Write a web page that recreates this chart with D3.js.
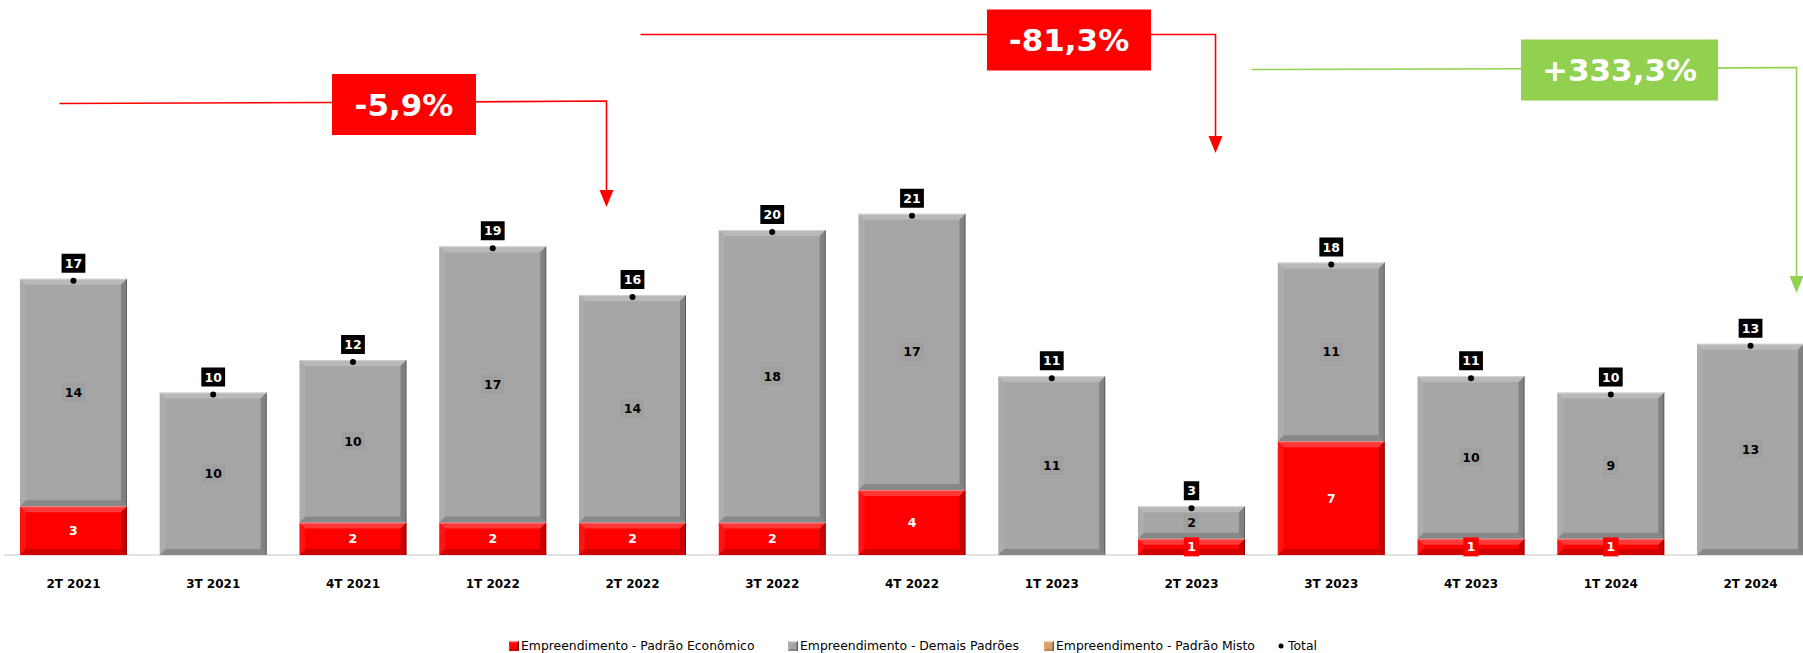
<!DOCTYPE html>
<html>
<head>
<meta charset="utf-8">
<script src="https://cdn.jsdelivr.net/npm/d3@7"></script>
<style>
  html, body { margin: 0; padding: 0; background: #ffffff; }
  svg { display: block; }
  text { font-family: "DejaVu Sans", Verdana, sans-serif; }
</style>
</head>
<body>
<svg id="chart" width="1803" height="653"></svg>
<script>
// Quarterly launches, split by project standard
const categories = ["2T 2021", "3T 2021", "4T 2021", "1T 2022", "2T 2022", "3T 2022", "4T 2022",
                    "1T 2023", "2T 2023", "3T 2023", "4T 2023", "1T 2024", "2T 2024"];
const padraoEconomico = [3, 0, 2, 2, 2, 2, 4, 0, 1, 7, 1, 1, 0];
const demaisPadroes   = [14, 10, 10, 17, 14, 18, 17, 11, 2, 11, 10, 9, 13];
const padraoMisto     = [0, 0, 0, 0, 0, 0, 0, 0, 0, 0, 0, 0, 0];
const seriesNames = ["Empreendimento - Padrão Econômico", "Empreendimento - Demais Padrões",
                     "Empreendimento - Padrão Misto", "Total"];

// Period-over-period comparisons highlighted above the bars (category indexes)
const comparisons = [
  { from: 0, to: 4 },
  { from: 4, to: 8 },
  { from: 8, to: 12 }
];

const totals = categories.map((_, i) => padraoEconomico[i] + demaisPadroes[i] + padraoMisto[i]);

const svg = d3.select("#chart");
const W = 1803;

const colors = { eco: "#ff0000", demais: "#a6a6a6", misto: "#d9a066", up: "#92d050", down: "#ff0000" };

const x = d3.scaleBand().domain(categories).range([3.6, 1820.4]).paddingInner(0.2343).paddingOuter(0.117);
const y = d3.scaleLinear().domain([0, 30]).range([555, 67.5]);

// baseline + category labels
const axis = d3.axisBottom(x).tickSize(0).tickSizeOuter(0).tickPadding(24);
const gAxis = svg.append("g").attr("transform", `translate(0,${y(0)})`).call(axis);
gAxis.select(".domain").attr("stroke", "#d9d9d9").attr("stroke-width", 1.5).attr("d", `M4,0H${W}`);
gAxis.selectAll(".tick text").attr("font-family", "DejaVu Sans, sans-serif")
  .attr("font-size", 12).attr("font-weight", "bold").attr("fill", "#000");

// stacked data
const rows = categories.map((c, i) => ({ cat: c, eco: padraoEconomico[i], demais: demaisPadroes[i], misto: padraoMisto[i] }));
const stack = d3.stack().keys(["eco", "demais", "misto"]);
const stacked = stack(rows);

function bevel(g, x0, y0, w, h, size) {
  const b = Math.min(size, h / 2, w / 2);
  const polys = [
    { p: [[x0, y0], [x0 + w, y0], [x0 + w - b, y0 + b], [x0 + b, y0 + b]], f: "#ffffff", o: 0.22 },
    { p: [[x0, y0], [x0 + b, y0 + b], [x0 + b, y0 + h - b], [x0, y0 + h]], f: "#ffffff", o: 0.07 },
    { p: [[x0 + w, y0], [x0 + w, y0 + h], [x0 + w - b, y0 + h - b], [x0 + w - b, y0 + b]], f: "#000000", o: 0.22 },
    { p: [[x0, y0 + h], [x0 + w, y0 + h], [x0 + w - b, y0 + h - b], [x0 + b, y0 + h - b]], f: "#000000", o: 0.18 }
  ];
  polys.forEach(d => g.append("polygon").attr("points", d.p.map(q => q.join(",")).join(" "))
    .attr("fill", d.f).attr("fill-opacity", d.o));
  // crisp outer edges
  g.append("line").attr("x1", x0).attr("x2", x0 + w).attr("y1", y0 + 0.5).attr("y2", y0 + 0.5)
    .attr("stroke", "#ffffff").attr("stroke-opacity", 0.35);
  g.append("line").attr("x1", x0 + w - 0.5).attr("x2", x0 + w - 0.5).attr("y1", y0).attr("y2", y0 + h)
    .attr("stroke", "#000000").attr("stroke-opacity", 0.3);
}

const fillFor = { eco: colors.eco, demais: colors.demais, misto: colors.misto };
const gBars = svg.append("g");
stacked.forEach(layer => {
  layer.forEach((d, i) => {
    const v = d[1] - d[0];
    if (v <= 0) return;
    const x0 = x(categories[i]), w = x.bandwidth();
    const y0 = y(d[1]), h = y(d[0]) - y(d[1]);
    const g = gBars.append("g");
    g.append("rect").attr("x", x0).attr("y", y0).attr("width", w).attr("height", h).attr("fill", fillFor[layer.key]);
    bevel(g, x0, y0, w, h, 6);
  });
});

// segment value labels
const gSeg = svg.append("g");
stacked.forEach(layer => {
  layer.forEach((d, i) => {
    const v = d[1] - d[0];
    if (v <= 0) return;
    const cx = x(categories[i]) + x.bandwidth() / 2;
    const cy = (y(d[0]) + y(d[1])) / 2;
    const txt = String(v);
    const bw = txt.length * 8.4 + 7, bh = 19;
    const isEco = layer.key === "eco";
    gSeg.append("rect").attr("x", cx - bw / 2).attr("y", cy - bh / 2).attr("width", bw).attr("height", bh)
      .attr("fill", isEco ? colors.eco : "#a0a0a0");
    gSeg.append("text").attr("x", cx).attr("y", cy).attr("dy", "0.36em").attr("text-anchor", "middle")
      .attr("font-size", 12.5).attr("font-weight", "bold").attr("fill", isEco ? "#ffffff" : "#000000").text(txt);
  });
});

// total markers and labels
const gTot = svg.append("g");
totals.forEach((t, i) => {
  const cx = x(categories[i]) + x.bandwidth() / 2;
  const cy = y(t) + 2;
  gTot.append("circle").attr("cx", cx).attr("cy", cy).attr("r", 3).attr("fill", "#000");
  const txt = String(t);
  const bw = txt.length * 8.4 + 7, bh = 19;
  const by = cy - 8 - bh;
  gTot.append("rect").attr("x", cx - bw / 2).attr("y", by).attr("width", bw).attr("height", bh).attr("fill", "#000");
  gTot.append("text").attr("x", cx).attr("y", by + bh / 2).attr("dy", "0.36em").attr("text-anchor", "middle")
    .attr("font-size", 12.5).attr("font-weight", "bold").attr("fill", "#fff").text(txt);
});

// comparison callouts: connector line, percentage box, arrow down to the target period
const callLayout = [
  { startDx: -14, y1: 103.5, y2: 101, boxCx: 404, boxCy: 104.5, boxW: 144, arrowDx: -26, tipY: 207 },
  { startDx: 8,   y1: 34.5,  y2: 34.5, boxCx: 1069, boxCy: 40, boxW: 164, arrowDx: 24, tipY: 153 },
  { startDx: 60,  y1: 69.5,  y2: 67.5, boxCx: 1619.5, boxCy: 70, boxW: 197, arrowDx: 46, tipY: 293 }
];
// Brazilian style: plain hyphen for negatives, comma as decimal separator
const pctFmt = v => (v > 0 ? "+" : v < 0 ? "-" : "") + Math.abs(v).toFixed(1).replace(".", ",") + "%";
const gAnn = svg.append("g");
comparisons.forEach((c, k) => {
  const L = callLayout[k];
  const a = totals[c.from], b = totals[c.to];
  const pct = (b - a) / a * 100;
  const col = pct >= 0 ? colors.up : colors.down;
  const xs = x(categories[c.from]) + x.bandwidth() / 2 + L.startDx;
  const xa = x(categories[c.to]) + x.bandwidth() / 2 + L.arrowDx;
  gAnn.append("path")
    .attr("d", `M${xs},${L.y1}L${L.boxCx},${(L.y1 + L.y2) / 2}L${xa},${L.y2}L${xa},${L.tipY - 15}`)
    .attr("fill", "none").attr("stroke", col).attr("stroke-width", 1.6);
  gAnn.append("polygon")
    .attr("points", `${xa - 7},${L.tipY - 17} ${xa + 7},${L.tipY - 17} ${xa},${L.tipY}`)
    .attr("fill", col);
  const bh = 61;
  gAnn.append("rect").attr("x", L.boxCx - L.boxW / 2).attr("y", L.boxCy - bh / 2)
    .attr("width", L.boxW).attr("height", bh).attr("fill", col);
  gAnn.append("text").attr("x", L.boxCx).attr("y", L.boxCy).attr("dy", "0.36em").attr("text-anchor", "middle")
    .attr("font-size", 31).attr("font-weight", "bold").attr("fill", "#fff").text(pctFmt(pct));
});

// legend
const legendItems = [
  { name: seriesNames[0], kind: "sq", color: colors.eco, x: 509 },
  { name: seriesNames[1], kind: "sq", color: colors.demais, x: 788 },
  { name: seriesNames[2], kind: "sq", color: colors.misto, x: 1044 },
  { name: seriesNames[3], kind: "dot", color: "#000", x: 1276 }
];
const gLeg = svg.append("g").attr("transform", "translate(0,646)");
legendItems.forEach(it => {
  const g = gLeg.append("g").attr("transform", `translate(${it.x},0)`);
  if (it.kind === "sq") {
    g.append("rect").attr("x", 0).attr("y", -5).attr("width", 10).attr("height", 10).attr("fill", it.color);
    bevel(g, 0, -5, 10, 10, 2);
  } else {
    g.append("circle").attr("cx", 5).attr("cy", 0).attr("r", 2.5).attr("fill", it.color);
  }
  g.append("text").attr("x", 12).attr("y", 0).attr("dy", "0.36em")
    .attr("font-family", "DejaVu Sans Condensed, DejaVu Sans, sans-serif")
    .attr("font-size", 12.4).attr("fill", "#000").text(it.name);
});
</script>
</body>
</html>
